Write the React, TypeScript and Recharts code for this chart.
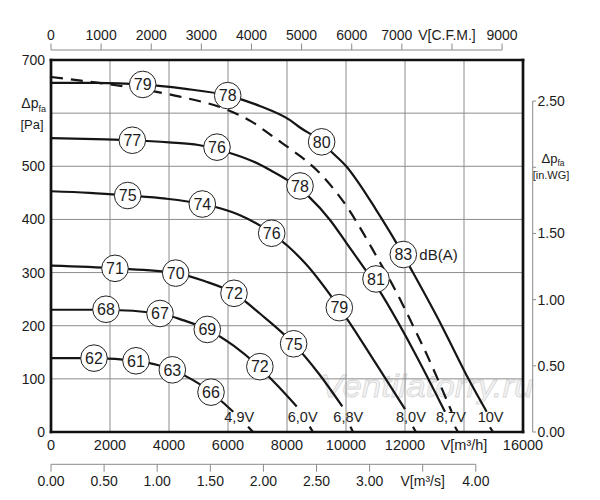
import React from 'react';
import {
  ComposedChart,
  Line,
  Scatter,
  XAxis,
  YAxis,
  CartesianGrid,
  ReferenceLine,
} from 'recharts';

// ---------- axis ticks ----------
const flowTicks = [0, 2000, 4000, 6000, 8000, 10000, 12000, 14000, 16000];
const pressureTicks = [0, 100, 200, 300, 400, 500, 600, 700];
const cfmTicks = [0, 1000, 2000, 3000, 4000, 5000, 6000, 7000, 8000, 9000];
const m3sTicks = [0, 0.5, 1, 1.5, 2, 2.5, 3, 3.5, 4];
const inwgTicks = [0, 0.5, 1, 1.5, 2, 2.5];

// unit conversions
const M3H_PER_CFM = 1.699;
const M3H_PER_M3S = 3600;
const PA_PER_INWG = 249.089;

// ---------- curves: [flow m3/h, pressure Pa]; null = gap behind voltage label ----------
const curve49V: [number, number | null][] = [
  [0, 139], [1458, 139], [2881, 134], [4113, 117], [4800, 98], [5424, 75],
  [5800, 57], [6180, 38], [6400, null], [6680, 10], [6850, 0],
];
const curve60V: [number, number | null][] = [
  [0, 230], [1860, 230], [3695, 223], [4500, 210], [5298, 193], [6200, 162],
  [7080, 121], [7700, 86], [8330, 48], [8550, null], [8770, 10], [8880, 0],
];
const curve68V: [number, number | null][] = [
  [0, 313], [2169, 308], [4227, 299], [5200, 284], [6203, 261], [7100, 222],
  [8225, 166], [9074, 110], [9875, 48], [10000, null], [10150, 10], [10240, 0],
];
const curve80V: [number, number | null][] = [
  [0, 453], [1300, 450], [2600, 445], [3900, 439], [5129, 429], [5729, 421],
  [6407, 408], [7481, 374], [8045, 349], [8640, 316], [9773, 234], [10023, 214],
  [11000, 130], [12000, 43], [12120, null], [12270, 10], [12370, 0],
];
const curve87V: [number, number | null][] = [
  [0, 553], [1500, 551], [2756, 549], [4000, 545], [5000, 540], [5955, 527],
  [6858, 509], [7424, 493], [7989, 475], [8757, 442], [9458, 399], [10023, 355],
  [11153, 264], [12282, 154], [13356, 38], [13500, null], [13695, 10], [13797, 0],
];
const curve10V: [number, number | null][] = [
  [0, 657], [1500, 657], [3108, 654], [4500, 646], [5990, 633], [7100, 613],
  [8102, 587], [8441, 573], [9174, 546], [9513, 527], [10023, 499], [10362, 474],
  [11000, 420], [11718, 355], [12270, 300], [13243, 200], [13660, 154],
  [14150, 100], [14769, 38], [14830, null], [14880, 9], [14983, 0],
];
const curveDashed: [number, number | null][] = [
  [0, 668], [1200, 660], [2000, 654], [3300, 643], [4373, 631], [5990, 606],
  [6800, 584], [7594, 553], [8329, 524], [9006, 493], [9570, 458], [10080, 420],
  [10362, 395], [11040, 330], [11548, 280], [12395, 186], [12620, 160], [13583, 38],
];

const voltageCurves = [
  { name: '4,9V', points: curve49V },
  { name: '6,0V', points: curve60V },
  { name: '6,8V', points: curve68V },
  { name: '8,0V', points: curve80V },
  { name: '8,7V', points: curve87V },
  { name: '10V', points: curve10V },
];

// ---------- sound level bubbles dB(A): [flow, pressure, dB] ----------
const db49V: [number, number, number][] = [[1458, 139, 62], [2881, 134, 61], [4113, 117, 63], [5424, 75, 66]];
const db60V: [number, number, number][] = [[1864, 231, 68], [3695, 223, 67], [5298, 193, 69], [7080, 123, 72]];
const db68V: [number, number, number][] = [[2169, 308, 71], [4227, 299, 70], [6203, 261, 72], [8225, 166, 75]];
const db80V: [number, number, number][] = [[2600, 445, 75], [5129, 429, 74], [7481, 374, 76], [9773, 234, 79]];
const db87V: [number, number, number][] = [[2756, 549, 77], [5627, 536, 76], [8441, 463, 78], [11017, 288, 81]];
const db10V: [number, number, number][] = [[3108, 654, 79], [5990, 633, 78], [9174, 546, 80], [11943, 334, 83]];
const dbUnit = 'dB(A)';

// ---------- styling ----------
const FONT = '"Liberation Sans", Arial, Helvetica, sans-serif';
const TXT = '#1c1c1c';
const AX = '#8a8a8a';
const GRID = '#8c8c8c';
const CURVE = '#151515';

const toPts = (arr: [number, number | null][]) => arr.map(([x, y]) => ({ x, y }));

const bubbleData = [db49V, db60V, db68V, db80V, db87V, db10V]
  .flat()
  .map(([x, y, db]) => ({ x, y, db, note: db === 83 && y === 334 ? dbUnit : '' }));

const voltageLabelData = voltageCurves.map((c) => {
  const gap = c.points.findIndex((p) => p[1] === null);
  const last = c.points[gap - 1];
  return { x: last[0], y: 0, label: c.name };
});

const cfmData = cfmTicks.map((c) => ({ c }));
const m3sData = m3sTicks.map((s) => ({ s }));
const inwgData = inwgTicks.map((w, i) => ({ i, w }));

const Bubble = (props: any) => {
  const { cx, cy, payload } = props;
  if (cx == null || cy == null) return null;
  return (
    <g>
      <circle cx={cx} cy={cy} r={13.3} fill="#fff" stroke="#222" strokeWidth={1} />
      <text x={cx} y={cy + 5.8} textAnchor="middle" fontSize={16} fill={TXT} fontFamily={FONT}>
        {payload.db}
      </text>
      {payload.note ? (
        <text x={cx + 16} y={cy + 5.5} fontSize={15} fill={TXT} fontFamily={FONT}>
          {payload.note}
        </text>
      ) : null}
    </g>
  );
};

const VoltLabel = (props: any) => {
  const { cx, cy, payload } = props;
  if (cx == null || cy == null) return null;
  return (
    <text x={cx - 9} y={cy - 10} fontSize={14.5} fill={TXT} fontFamily={FONT}>
      {payload.label}
    </text>
  );
};

const LeftTick = (props: any) => {
  const { x, y, payload } = props;
  const v = payload.value;
  if (v === 600) {
    return (
      <g fontFamily={FONT} fill={TXT}>
        <text x={x + 1} y={y - 5} textAnchor="end" fontSize={14}>
          Δp<tspan fontSize={9} dy={3.5}>fa</tspan>
        </text>
        <text x={x - 1.5} y={y + 16} textAnchor="end" fontSize={13}>
          [Pa]
        </text>
      </g>
    );
  }
  return (
    <text x={x} y={y + 5} textAnchor="end" fontSize={14} fill={TXT} fontFamily={FONT}>
      {v}
    </text>
  );
};

const BottomTick = (props: any) => {
  const { x, y, payload } = props;
  const v = payload.value;
  const label = v === 14000 ? 'V[m³/h]' : String(v);
  return (
    <text x={x} y={y + 18} textAnchor="middle" fontSize={14.5} fill={TXT} fontFamily={FONT}>
      {label}
    </text>
  );
};

const M3sTick = (props: any) => {
  const { x, y, payload } = props;
  const v = payload.value;
  const label = v === 3.5 ? 'V[m³/s]' : Number(v).toFixed(2);
  return (
    <text x={x} y={y + 14} textAnchor="middle" fontSize={14} fill={TXT} fontFamily={FONT}>
      {label}
    </text>
  );
};

const CfmTick = (props: any) => {
  const { x, y, payload } = props;
  const v = payload.value;
  const isName = v === 8000;
  const dx = isName ? -5 : v === 7000 ? -5 : 0;
  return (
    <text
      x={x + dx}
      y={y - 3.5}
      textAnchor="middle"
      fontSize={14}
      fill={TXT}
      fontFamily={FONT}
    >
      {isName ? 'V[C.F.M.]' : v}
    </text>
  );
};

const RightTick = (props: any) => {
  const { x, y, payload } = props;
  const v = payload.value;
  if (v === 2) {
    return (
      <g fontFamily={FONT} fill={TXT}>
        <text x={x + 15.5} y={y - 4} textAnchor="middle" fontSize={13}>
          Δp<tspan fontSize={8.5} dy={2.5}>fa</tspan>
        </text>
        <text x={x + 13.5} y={y + 12} textAnchor="middle" fontSize={11}>
          [in.WG]
        </text>
      </g>
    );
  }
  return (
    <text x={x} y={y + 5} textAnchor="start" fontSize={14} fill={TXT} fontFamily={FONT}>
      {Number(v).toFixed(2)}
    </text>
  );
};

const layer: React.CSSProperties = { position: 'absolute', left: 0, top: 0, pointerEvents: 'none' };

export default function App() {
  return (
    <div style={{ position: 'absolute', left: 0, top: 0, width: 600, height: 500, background: '#fff' }}>
      {/* watermark */}
      <svg width={600} height={500} style={layer}>
        <text
          x={427}
          y={397}
          textAnchor="middle"
          fontSize={32}
          fontStyle="italic"
          fontFamily={FONT}
          fill="#f3f3f3"
          stroke="#d8d8d8"
          strokeWidth={0.8}
          textLength={213}
          lengthAdjust="spacingAndGlyphs"
        >
          Ventilatorry.ru
        </text>
      </svg>

      {/* main chart */}
      <div style={layer}>
        <ComposedChart width={600} height={500} margin={{ top: 60, right: 77, bottom: 35, left: 0 }}>
          <CartesianGrid stroke={GRID} strokeWidth={1} />
          <XAxis
            dataKey="x"
            type="number"
            domain={[0, 16000]}
            ticks={flowTicks}
            interval={0}
            height={33}
            axisLine={false}
            tickLine={false}
            tickSize={0}
            tickMargin={0}
            tick={BottomTick}
          />
          <YAxis
            type="number"
            domain={[0, 700]}
            ticks={pressureTicks}
            interval={0}
            width={51}
            axisLine={false}
            tickLine={false}
            tickSize={0}
            tickMargin={6}
            tick={LeftTick}
          />

          <Line
            data={toPts(curveDashed)}
            dataKey="y"
            type="monotone"
            stroke={CURVE}
            strokeWidth={2.2}
            strokeDasharray="12 8"
            dot={false}
            activeDot={false}
            isAnimationActive={false}
          />
          {voltageCurves.map((c) => (
            <Line
              key={c.name}
              data={toPts(c.points)}
              dataKey="y"
              type="monotone"
              stroke={CURVE}
              strokeWidth={2.2}
              dot={false}
              activeDot={false}
              connectNulls={false}
              isAnimationActive={false}
            />
          ))}

          {/* frame */}
          <ReferenceLine x={0} stroke="#111" strokeWidth={2.7} ifOverflow="visible" strokeLinecap="square" />
          <ReferenceLine x={16000} stroke="#111" strokeWidth={2.7} ifOverflow="visible" strokeLinecap="square" />
          <ReferenceLine y={0} stroke="#111" strokeWidth={2.7} ifOverflow="visible" strokeLinecap="square" />
          <ReferenceLine y={700} stroke="#111" strokeWidth={2.7} ifOverflow="visible" strokeLinecap="square" />

          <Scatter data={voltageLabelData} dataKey="y" shape={VoltLabel} isAnimationActive={false} />
          <Scatter data={bubbleData} dataKey="y" shape={Bubble} isAnimationActive={false} />
        </ComposedChart>
      </div>

      {/* top axis: V [C.F.M.]  (0..9000 CFM = 0..15291 m3/h) */}
      <div style={layer}>
        <ComposedChart
          width={600}
          height={60}
          data={cfmData}
          margin={{ top: 10, right: 600 - 51 - (472 * 9000 * M3H_PER_CFM) / 16000, bottom: 0, left: 51 }}
        >
          <XAxis
            dataKey="c"
            type="number"
            orientation="top"
            domain={[0, 9000]}
            ticks={cfmTicks}
            interval={0}
            height={40}
            axisLine={{ stroke: AX, strokeWidth: 1 }}
            tickLine={{ stroke: AX, strokeWidth: 1 }}
            tickSize={6.5}
            tickMargin={0}
            tick={CfmTick}
          />
          <YAxis hide domain={[0, 9000]} />
          <Line dataKey="c" stroke="none" dot={false} activeDot={false} isAnimationActive={false} />
        </ComposedChart>
      </div>

      {/* second bottom axis: V [m3/s] (0..4 m3/s = 0..14400 m3/h) */}
      <div style={layer}>
        <ComposedChart
          width={600}
          height={500}
          data={m3sData}
          margin={{ top: 454, right: 600 - 51 - (472 * 4 * M3H_PER_M3S) / 16000, bottom: 5.7, left: 51 }}
        >
          <XAxis
            dataKey="s"
            type="number"
            domain={[0, 4]}
            ticks={m3sTicks}
            interval={0}
            height={30}
            axisLine={{ stroke: AX, strokeWidth: 1 }}
            tickLine={{ stroke: AX, strokeWidth: 1 }}
            tickSize={7.4}
            tickMargin={0}
            tick={M3sTick}
          />
          <YAxis hide domain={[0, 4]} />
          <Line dataKey="s" stroke="none" dot={false} activeDot={false} isAnimationActive={false} />
        </ComposedChart>
      </div>

      {/* right axis: Δp [in.WG] (0..2.5 in.WG = 0..622.7 Pa) */}
      <div style={layer}>
        <ComposedChart
          width={600}
          height={500}
          data={inwgData}
          margin={{ top: 432 - (372 * 2.5 * PA_PER_INWG) / 700, right: 7.3, bottom: 68, left: 0 }}
        >
          <XAxis hide dataKey="i" type="number" domain={[0, 5]} />
          <YAxis
            orientation="right"
            type="number"
            domain={[0, 2.5]}
            ticks={inwgTicks}
            interval={0}
            width={60}
            axisLine={{ stroke: AX, strokeWidth: 1 }}
            tickLine={{ stroke: AX, strokeWidth: 1 }}
            tickSize={3.3}
            tickMargin={1.5}
            tick={RightTick}
          />
          <Line dataKey="w" stroke="none" dot={false} activeDot={false} isAnimationActive={false} />
        </ComposedChart>
      </div>
    </div>
  );
}
